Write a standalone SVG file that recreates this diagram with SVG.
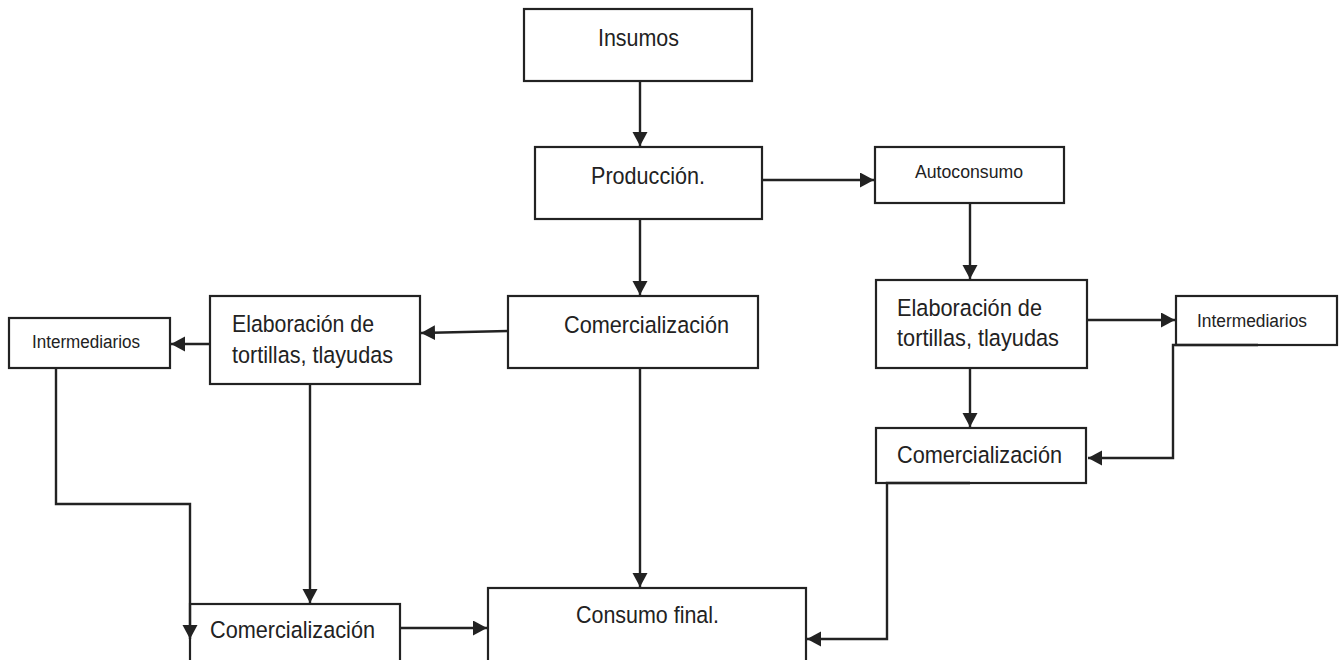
<svg xmlns="http://www.w3.org/2000/svg" width="1342" height="660" viewBox="0 0 1342 660">
<style>
.box{fill:#fff;stroke:#222;stroke-width:2.2}
.t{font-family:"Liberation Sans",Arial,sans-serif;font-size:24.5px;fill:#222}
.s{font-family:"Liberation Sans",Arial,sans-serif;font-size:18px;fill:#222}
.c{fill:none;stroke:#222;stroke-width:2.4}
</style>
<defs>
<marker id="ah" markerUnits="userSpaceOnUse" markerWidth="16" markerHeight="16" refX="14" refY="7.5" orient="auto">
<path d="M0,0 L14,7.5 L0,15 z" fill="#222"/>
</marker>
</defs>
<rect width="1342" height="660" fill="#fff"/>
<g id="insumos"><rect class="box" x="524" y="9" width="228" height="72"/><text class="t" x="598" y="46" textLength="81" lengthAdjust="spacingAndGlyphs">Insumos</text></g>
<g id="produccion"><rect class="box" x="535" y="147" width="227" height="72"/><text class="t" x="591" y="184" textLength="114" lengthAdjust="spacingAndGlyphs">Producción.</text></g>
<g id="autoconsumo"><rect class="box" x="875" y="147" width="189" height="56"/><text class="s" x="915" y="178" textLength="108" lengthAdjust="spacingAndGlyphs">Autoconsumo</text></g>
<g id="comercializacion-centro"><rect class="box" x="508" y="296" width="250" height="72"/><text class="t" x="564" y="333" textLength="165" lengthAdjust="spacingAndGlyphs">Comercialización</text></g>
<g id="elaboracion-izq"><rect class="box" x="210" y="296" width="210" height="88"/><text class="t" x="232" y="332" textLength="142" lengthAdjust="spacingAndGlyphs">Elaboración de</text><text class="t" x="232" y="363" textLength="161" lengthAdjust="spacingAndGlyphs">tortillas, tlayudas</text></g>
<g id="intermediarios-izq"><rect class="box" x="9" y="318" width="161" height="50"/><text class="s" x="32" y="348" textLength="108" lengthAdjust="spacingAndGlyphs">Intermediarios</text></g>
<g id="elaboracion-der"><rect class="box" x="876" y="280" width="211" height="88"/><text class="t" x="897" y="316" textLength="145" lengthAdjust="spacingAndGlyphs">Elaboración de</text><text class="t" x="897" y="346" textLength="162" lengthAdjust="spacingAndGlyphs">tortillas, tlayudas</text></g>
<g id="intermediarios-der"><rect class="box" x="1176" y="296" width="161" height="49"/><text class="s" x="1197" y="327" textLength="110" lengthAdjust="spacingAndGlyphs">Intermediarios</text></g>
<g id="comercializacion-der"><rect class="box" x="876" y="428" width="210" height="55"/><text class="t" x="897" y="463" textLength="165" lengthAdjust="spacingAndGlyphs">Comercialización</text></g>
<g id="comercializacion-izq"><rect class="box" x="190" y="604" width="210" height="62"/><text class="t" x="210" y="638" textLength="165" lengthAdjust="spacingAndGlyphs">Comercialización</text></g>
<g id="consumo-final"><rect class="box" x="488" y="588" width="318" height="78"/><text class="t" x="576" y="623" textLength="143" lengthAdjust="spacingAndGlyphs">Consumo final.</text></g>
<g id="connectors">
<path class="c" d="M640 81 V146" marker-end="url(#ah)"/>
<path class="c" d="M640 219 V295" marker-end="url(#ah)"/>
<path class="c" d="M762 180 H874" marker-end="url(#ah)"/>
<path class="c" d="M970 203 V279" marker-end="url(#ah)"/>
<path class="c" d="M508 331 L421 333" marker-end="url(#ah)"/>
<path class="c" d="M210 344 H171" marker-end="url(#ah)"/>
<path class="c" d="M310 384 V603" marker-end="url(#ah)"/>
<path class="c" d="M56 368 V504 H190 V639" marker-end="url(#ah)"/>
<path class="c" d="M400 628 H487" marker-end="url(#ah)"/>
<path class="c" d="M640 368 V587" marker-end="url(#ah)"/>
<path class="c" d="M970 483 H887 V639 H807" marker-end="url(#ah)"/>
<path class="c" d="M1087 320 H1175" marker-end="url(#ah)"/>
<path class="c" d="M970 368 V427" marker-end="url(#ah)"/>
<path class="c" d="M1258 345 H1173 V458 H1088" marker-end="url(#ah)"/>
</g>
</svg>
